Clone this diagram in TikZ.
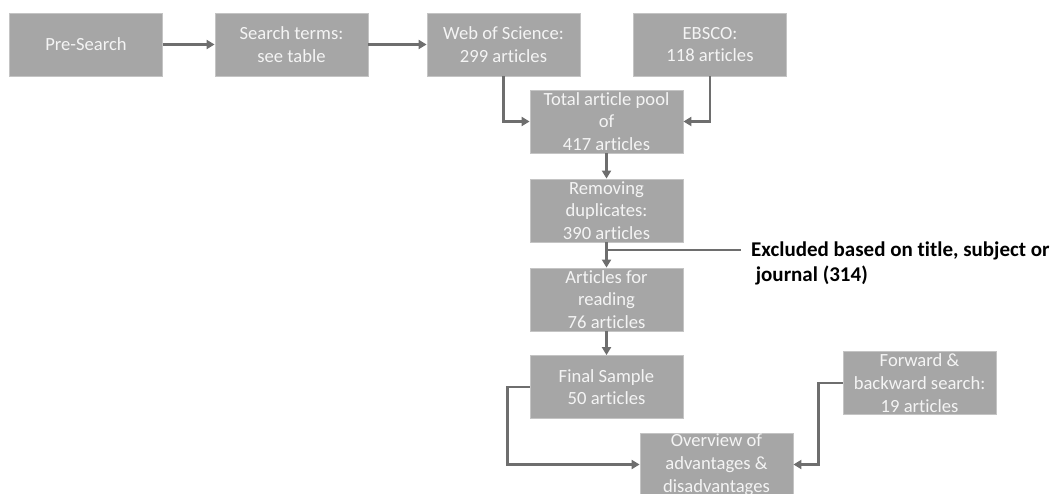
\documentclass[tikz,border=0pt]{standalone}
\usepackage{fontspec}
\setmainfont{Carlito}[Ligatures=NoCommon]
\usetikzlibrary{arrows.meta}
\definecolor{boxfill}{HTML}{A6A6A6}
\definecolor{boxedge}{HTML}{C4C4C4}
\definecolor{boxtext}{HTML}{F4F4F4}
\definecolor{linkgray}{HTML}{6E6E6E}
\tikzset{
  flowbox/.style={fill=boxfill, draw=boxedge, line width=0.8pt,
    minimum width=153pt, minimum height=63pt, inner sep=0pt,
    text=boxtext, align=center, font=\fontsize{18.6}{22.7}\selectfont},
  link/.style={draw=linkgray, line width=2.6pt,
    -{Triangle[length=8pt,width=9pt]}},
  plainlink/.style={draw=linkgray, line width=2.6pt},
  note/.style={align=left, inner xsep=10pt, inner ysep=0pt, text=black,
    font=\bfseries\fontsize{21}{25}\selectfont}
}
\begin{document}
\begin{tikzpicture}[x=1pt,y=-1pt]
\useasboundingbox (0,0) rectangle (1060,494);
\clip (0,0) rectangle (1060,494);
\node[flowbox] (pre) at (86,44.5) {Pre-Search};
\node[flowbox] (terms) at (291.5,44.5) {Search terms:\\see table};
\node[flowbox] (wos) at (503.5,44.5) {Web of Science:\\299 articles};
\node[flowbox] (ebsco) at (710,44.5) {EBSCO:\\118 articles};
\node[flowbox] (pool) at (606.5,121.5) {Total article pool\\of\\417 articles};
\node[flowbox] (dup) at (606.5,210.5) {Removing\\duplicates:\\390 articles};
\node[flowbox] (read) at (606.5,299.5) {Articles for\\reading\\76 articles};
\node[flowbox] (final) at (606.5,387) {Final Sample\\50 articles};
\node[flowbox] (fwd) at (919.5,383) {Forward \&\\backward search:\\19 articles};
\node[flowbox] (over) at (716.5,464.5) {Overview of\\advantages \&\\disadvantages};
\node[note, anchor=west] (excl) at (741,263) {Excluded based on title, subject or\\\hspace*{0.22em}journal (314)};
\coordinate (junc) at (606.5,250);
\coordinate (lcorner) at (507.5,0);
\coordinate (rcorner) at (818.5,0);

\draw[link] (pre) -- (terms);
\draw[link] (terms) -- (wos);
\draw[link] (wos.south) |- (pool.west);
\draw[link] (ebsco.south) |- (pool.east);
\draw[link] (pool) -- (dup);
\draw[link] (dup) -- (read);
\draw[plainlink] (junc) -- (junc -| excl.west);
\draw[link] (read) -- (final);
\draw[link] (final.west) -- (final.west -| lcorner) |- (over.west);
\draw[link] (fwd.west) -- (fwd.west -| rcorner) |- (over.east);
\end{tikzpicture}
\end{document}
